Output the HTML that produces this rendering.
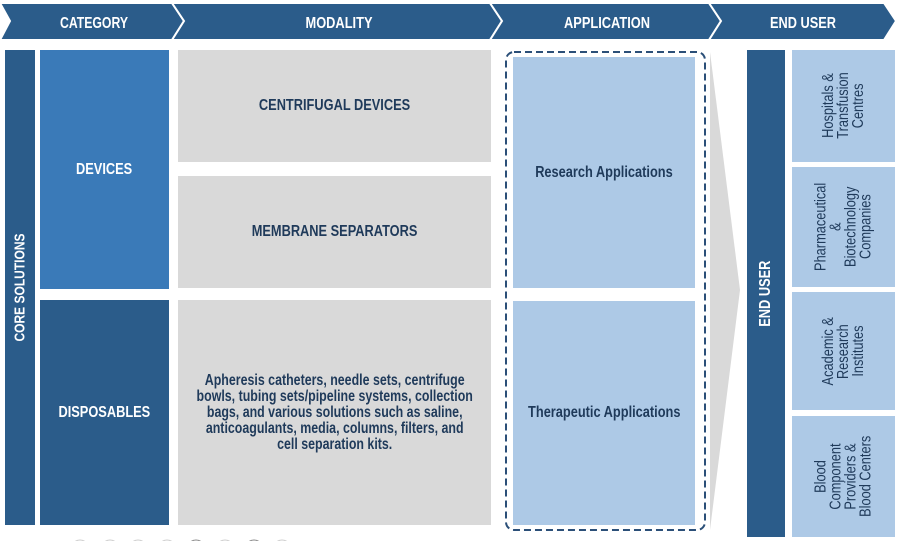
<!DOCTYPE html>
<html><head><style>
body{margin:0;width:900px;height:541px;background:#fff;position:relative;overflow:hidden;font-family:"Liberation Sans",sans-serif;}
.b{position:absolute;display:flex;align-items:center;justify-content:center;text-align:center;font-weight:bold;}
.b>span{display:inline-block;transform:scaleX(.8);white-space:nowrap;}
.v{writing-mode:vertical-rl;transform:rotate(180deg);}
.v>span{transform:scaleY(.8);}
.d{background:#2b5c8a;color:#fff;}
.m{background:#3a7ab8;color:#fff;}
.g{background:#d9d9d9;color:#1f3a5a;font-size:16px;}
.l{background:#adc9e6;color:#1f3a5a;font-size:16px;}
.r{background:#adc9e6;color:#1f3a5a;font-size:16px;font-weight:normal;line-height:15px;}
</style></head><body>
<svg width="900" height="541" style="position:absolute;left:0;top:0">
<g fill="#2b5c8a" stroke="#fff" stroke-width="2">
<polygon points="0,3 172,3 184,21 172,40 0,40 10,21"/>
<polygon points="172,3 490,3 502,21 490,40 172,40 184,21"/>
<polygon points="490,3 709,3 721,21 709,40 490,40 502,21"/>
<polygon points="709,3 884,3 896,21 884,40 709,40 721,21"/>
</g>
<g fill="#fff" font-family="Liberation Sans,sans-serif" font-weight="bold" font-size="16" text-anchor="middle" lengthAdjust="spacingAndGlyphs">
<text x="94" y="28" textLength="68" lengthAdjust="spacingAndGlyphs">CATEGORY</text><text x="339" y="28" textLength="67" lengthAdjust="spacingAndGlyphs">MODALITY</text><text x="607" y="28" textLength="86" lengthAdjust="spacingAndGlyphs">APPLICATION</text><text x="803" y="28" textLength="66" lengthAdjust="spacingAndGlyphs">END USER</text>
</g>
<polygon points="710,52 740,290 710,530" fill="#d9d9d9"/>
<rect x="506" y="52" width="199" height="478" rx="8" fill="none" stroke="#2b4f78" stroke-width="2" stroke-dasharray="7,4"/>
<g fill="none" stroke="#ccc"><circle cx="80" cy="549" r="9"/><circle cx="110" cy="549" r="9"/><circle cx="138" cy="549" r="9"/><circle cx="167" cy="549" r="9"/><circle cx="196" cy="549" r="9" stroke="#888"/><circle cx="225" cy="549" r="9"/><circle cx="254" cy="549" r="9" stroke="#888"/><circle cx="282" cy="549" r="9"/></g>
</svg>
<div class="b d v" style="left:5px;top:50px;width:30px;height:475px;font-size:15px"><span>CORE SOLUTIONS</span></div>
<div class="b m" style="left:40px;top:50px;width:129px;height:239px;font-size:16px"><span>DEVICES</span></div>
<div class="b d" style="left:40px;top:300px;width:129px;height:225px;font-size:16px"><span>DISPOSABLES</span></div>
<div class="b g" style="left:178px;top:50px;width:313px;height:112px"><span>CENTRIFUGAL DEVICES</span></div>
<div class="b g" style="left:178px;top:176px;width:313px;height:112px"><span>MEMBRANE SEPARATORS</span></div>
<div class="b g" style="left:178px;top:300px;width:313px;height:225px;font-size:15.5px;line-height:16px"><span>Apheresis catheters, needle sets, centrifuge<br>bowls, tubing sets/pipeline systems, collection<br>bags, and various solutions such as saline,<br>anticoagulants, media, columns, filters, and<br>cell separation kits.</span></div>
<div class="b l" style="left:513px;top:57px;width:182px;height:231px"><span>Research Applications</span></div>
<div class="b l" style="left:513px;top:301px;width:182px;height:224px"><span>Therapeutic Applications</span></div>
<div class="b d v" style="left:747px;top:50px;width:38px;height:487px;font-size:16px"><span>END USER</span></div>
<div class="b r v" style="left:792px;top:50px;width:103px;height:112px"><span>Hospitals &amp;<br>Transfusion<br>Centres</span></div>
<div class="b r v" style="left:792px;top:167px;width:103px;height:120px"><span>Pharmaceutical<br>&amp;<br>Biotechnology<br>Companies</span></div>
<div class="b r v" style="left:792px;top:292px;width:103px;height:118px"><span>Academic &amp;<br>Research<br>Institutes</span></div>
<div class="b r v" style="left:792px;top:416px;width:103px;height:121px"><span>Blood<br>Component<br>Providers &amp;<br>Blood Centers</span></div>
</body></html>
